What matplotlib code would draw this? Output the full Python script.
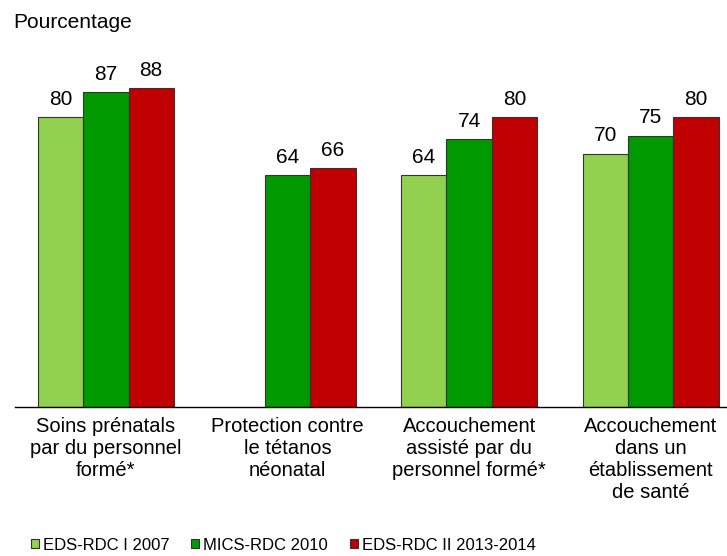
import numpy as np
import matplotlib.pyplot as plt
from matplotlib.patches import Patch

plt.rcParams['font.family'] = ['Liberation Sans', 'DejaVu Sans']

categories = ["Soins prénatals\npar du personnel\nformé*",
              "Protection contre\nle tétanos\nnéonatal",
              "Accouchement\nassisté par du\npersonnel formé*",
              "Accouchement\ndans un\nétablissement\nde santé"]
series = ["EDS-RDC I 2007", "MICS-RDC 2010", "EDS-RDC II 2013-2014"]
eds_2007 = [80, np.nan, 64, 70]
mics_2010 = [87, 64, 74, 75]
eds_2014 = [88, 66, 80, 80]
colors = ["#92D050", "#009900", "#C00000"]

fig = plt.figure(figsize=(7.27, 5.56), dpi=100)
ax = fig.add_axes([15 / 727, 149 / 556, 712 / 727, 362 / 556])

x = np.arange(len(categories))
w = 0.25
for i, (vals, c) in enumerate(zip([eds_2007, mics_2010, eds_2014], colors)):
    pos = x + (i - 1) * w
    ax.bar(pos, vals, width=w, color=c, edgecolor="#333333", linewidth=0.8)
    for p, v in zip(pos, vals):
        if not np.isnan(v):
            ax.text(p, v + 2.3, f"{v:.0f}", ha="center", va="bottom", fontsize=15)

ax.set_xlim(-0.5, 3.42)
ax.set_ylim(0, 100)
ax.set_yticks([])
ax.set_xticks(x)
ax.set_xticklabels(categories, fontsize=14.5, linespacing=1.2)
ax.tick_params(axis="x", length=0, pad=7)
for s in ["top", "right", "left"]:
    ax.spines[s].set_visible(False)
ax.spines["bottom"].set_linewidth(1.0)

fig.text(13 / 727, 1 - 23 / 556, "Pourcentage", fontsize=15, va="center", ha="left")

# legend entries placed one by one to follow the original spacing
leg_x = [31, 191, 350]
for lx, name, c in zip(leg_x, series, colors):
    h = Patch(facecolor=c, edgecolor="#333333", linewidth=0.8)
    fig.legend([h], [name], loc="center left", bbox_to_anchor=(lx / 727, 11 / 556),
               frameon=False, handlelength=0.5, handleheight=0.5,
               handletextpad=0.2, borderaxespad=0, borderpad=0, fontsize=12)

fig.savefig("out.png", dpi=100)
